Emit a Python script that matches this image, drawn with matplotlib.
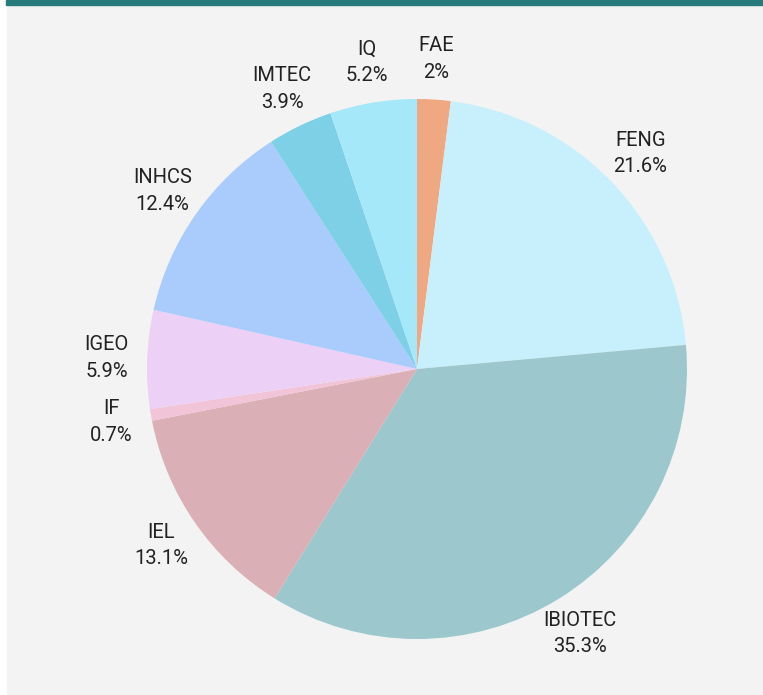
import numpy as np
import matplotlib.pyplot as plt
from matplotlib.patches import Rectangle

labels = ['FAE', 'FENG', 'IBIOTEC', 'IEL', 'IF', 'IGEO', 'INHCS', 'IMTEC', 'IQ']
values = [2, 21.6, 35.3, 13.1, 0.7, 5.9, 12.4, 3.9, 5.2]
colors = ['#f0a882', '#c8f0fc', '#9cc8cd', '#dab0b6', '#f2c4d8',
          '#ecd0f6', '#a9ccfd', '#7dd0e6', '#a5e8f9']

W, H = 763, 695
fig = plt.figure(figsize=(W / 100, H / 100), dpi=100, facecolor='white')
ax = fig.add_axes([0, 0, 1, 1])

# panel + top bar
ax.add_patch(Rectangle((7, 0), W - 7, H - 5, color='#f3f3f3', zorder=0))
ax.add_patch(Rectangle((6, H - 5), W - 6, 5, color='#277a7b', zorder=0))

cx, cy, r = 417, H - 369, 270
wedges, _ = ax.pie(values, colors=colors, startangle=90, counterclock=False,
                   center=(cx, cy), radius=r, wedgeprops=dict(linewidth=0))

for w, name, v in zip(wedges, labels, values):
    ang = np.deg2rad((w.theta1 + w.theta2) / 2)
    d = r * 1.15
    ax.text(cx + d * np.cos(ang), cy + d * np.sin(ang), f"{name}\n{v:g}%",
            ha='center', va='center', fontsize=14.5, family='Roboto',
            color='#222222', linespacing=1.5)

ax.set_xlim(0, W)
ax.set_ylim(0, H)
ax.set_aspect('equal')
ax.axis('off')

fig.savefig('out.png', dpi=100, facecolor='white')
